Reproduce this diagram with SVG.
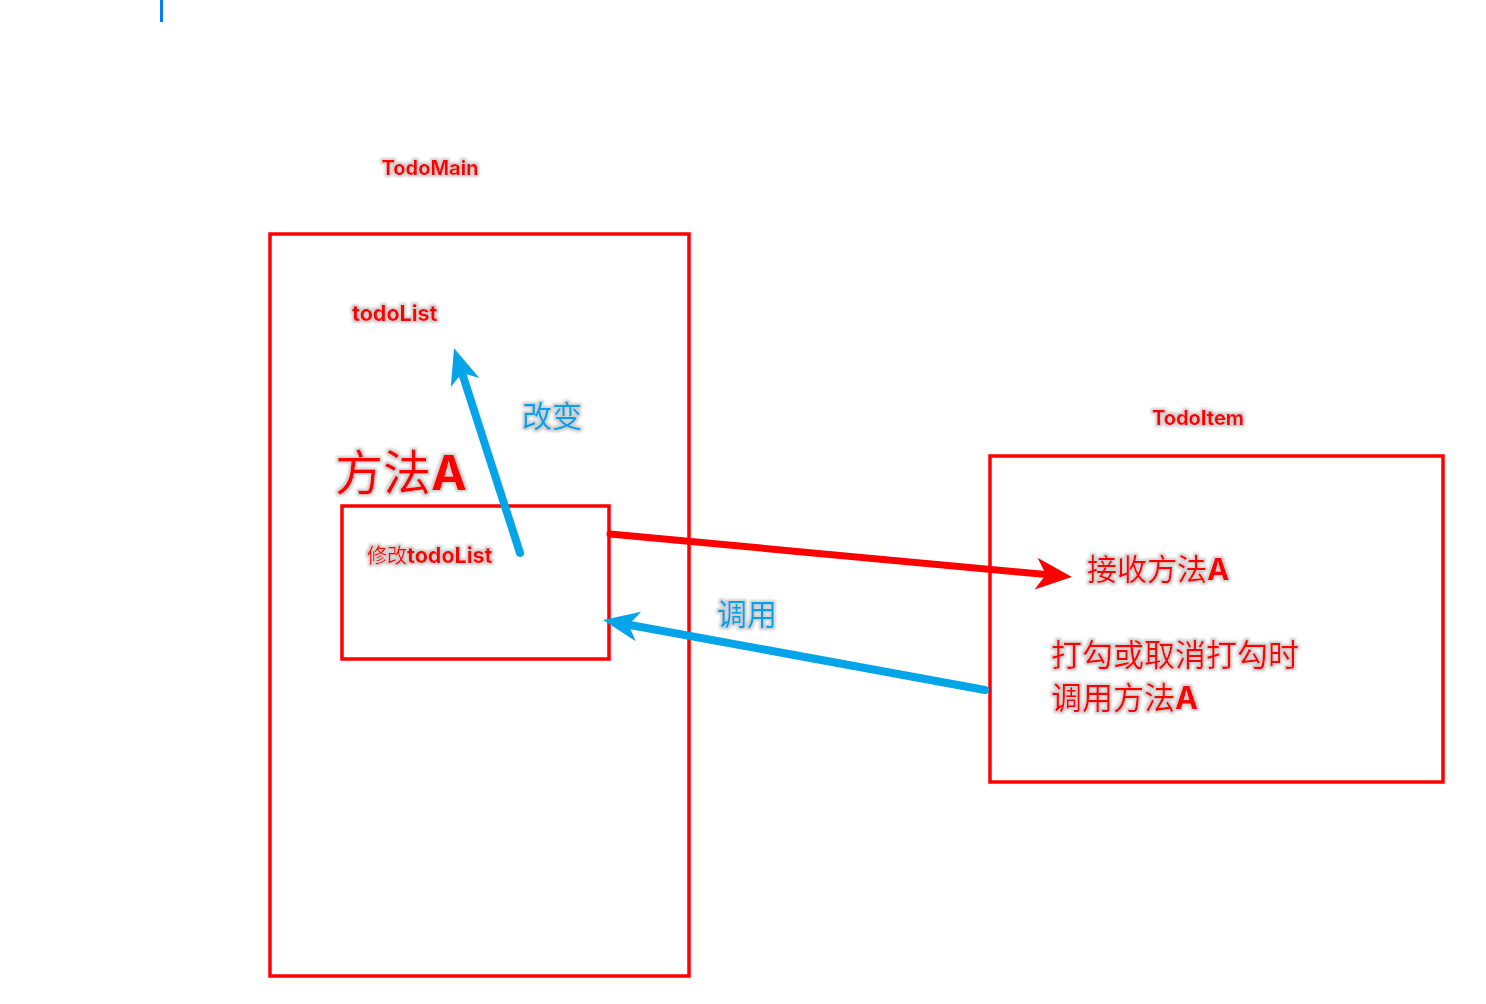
<svg xmlns="http://www.w3.org/2000/svg" width="1486" height="1004" viewBox="0 0 1486 1004">
<style>
.box{fill:none;stroke:#ff0000;stroke-width:3.5}
.t{font-family:"Inter","Noto Sans CJK SC",sans-serif;filter:url(#halo)}
.red{fill:#ff0000}
.blue{fill:#00a2ea}
.b{font-weight:bold}
.conn{fill:none;stroke-linecap:round}
</style>
<defs>
<filter id="halo" x="-10%" y="-30%" width="120%" height="160%">
<feMorphology in="SourceAlpha" operator="dilate" radius="1.5" result="d"/>
<feGaussianBlur in="d" stdDeviation="1.2" result="bl"/>
<feFlood flood-color="#b0b0b0" flood-opacity="0.6"/>
<feComposite in2="bl" operator="in" result="sh"/>
<feMerge><feMergeNode in="sh"/><feMergeNode in="SourceGraphic"/></feMerge>
</filter>
<marker id="ahRed" markerUnits="userSpaceOnUse" markerWidth="60" markerHeight="60" viewBox="-20 -20 60 40" refX="0" refY="0" orient="auto" overflow="visible">
<path d="M26,0 L-10,-16 L0,0 L-10,16 Z" fill="#ff0000"/>
</marker>
<marker id="ahBlue" markerUnits="userSpaceOnUse" markerWidth="60" markerHeight="60" viewBox="-20 -20 60 40" refX="0" refY="0" orient="auto" overflow="visible">
<path d="M26,0 L-10,-15 L0,0 L-10,15 Z" fill="#04a5e8"/>
</marker>
</defs>
<rect width="1486" height="1004" fill="#ffffff"/>
<line x1="161.5" y1="0" x2="161.5" y2="22" stroke="#0a7aff" stroke-width="3"/>

<g id="todoMain">
<text class="t red b" x="430" y="175" font-size="20" text-anchor="middle">TodoMain</text>
<rect class="box" x="270" y="234" width="419" height="742"/>
<text class="t red b" x="352" y="321" font-size="21.5">todoList</text>
</g>

<g id="methodA">
<text class="t red" x="335" y="490" font-size="48">方法<tspan class="b">A</tspan></text>
<rect class="box" x="342" y="506" width="267" height="153"/>
<text class="t red" x="367" y="563" font-size="20">修改<tspan class="b" font-size="21.5">todoList</tspan></text>
</g>

<g id="todoItem">
<text class="t red b" x="1198" y="425" font-size="20" text-anchor="middle">TodoItem</text>
<rect class="box" x="990" y="456" width="453" height="326"/>
<text class="t red" x="1087" y="580" font-size="30">接收方法<tspan class="b">A</tspan></text>
<text class="t red" x="1051" y="666" font-size="31">打勾或取消打勾时</text>
<text class="t red" x="1051" y="709" font-size="31">调用方法<tspan class="b">A</tspan></text>
</g>

<g id="connectors">
<path class="conn" d="M520,553 L462,373" stroke="#04a5e8" stroke-width="8" marker-end="url(#ahBlue)"/>
<path class="conn" d="M610,534 L1046,574.6" stroke="#ff0000" stroke-width="7" stroke-linecap="butt" marker-end="url(#ahRed)"/>
<path class="conn" d="M985,690 L628.6,624.7" stroke="#04a5e8" stroke-width="8" marker-end="url(#ahBlue)"/>
<text class="t blue" x="522" y="427" font-size="30">改变</text>
<text class="t blue" x="717" y="625" font-size="30">调用</text>
</g>
</svg>
